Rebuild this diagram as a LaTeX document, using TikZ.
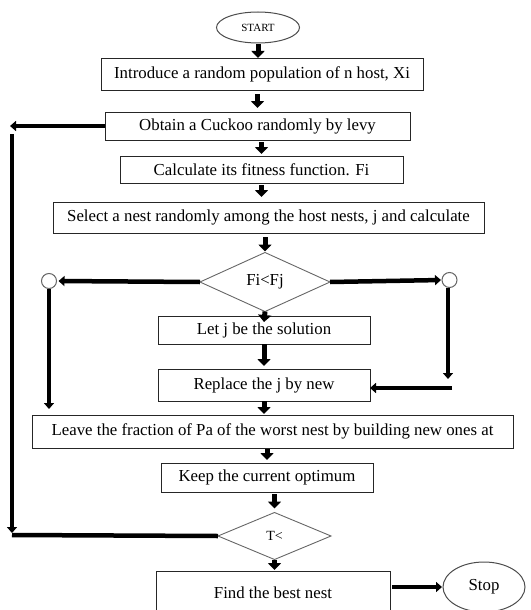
\documentclass[tikz,border=0pt]{standalone}
\usepackage{fontspec}
\setmainfont{Liberation Serif}
\usetikzlibrary{shapes.geometric,arrows.meta}
\begin{document}
\begin{tikzpicture}[x=1pt,y=-1pt,
  box/.style={draw=black!85,line width=1pt,inner sep=0pt,outer sep=0pt,font=\fontsize{16.8}{18}\selectfont},
  dia/.style={diamond,draw=black!60,line width=0.9pt,inner sep=0pt,outer sep=0pt,font=\fontsize{16.8}{18}\selectfont},
  oval/.style={ellipse,draw=black!70,line width=1pt,inner sep=0pt,outer sep=0pt},
  dot/.style={circle,draw=black!60,line width=1pt,fill=white,minimum size=15pt,inner sep=0pt,outer sep=0pt},
  varr/.style={line width=5pt,-{Triangle[width=13pt,length=7pt]}},
  harr/.style={line width=4.5pt,-{Triangle[width=10pt,length=6pt]}},
  hline/.style={line width=4.5pt},
]
\useasboundingbox (0,0) rectangle (530,610);

\node[oval,minimum width=83pt,minimum height=31pt,font=\fontsize{11}{12}\selectfont] (start) at (258,27.5) {START};
\node[box,minimum width=322pt,minimum height=31pt] (b1) at (262,74.5) {Introduce a random population of n host, Xi};
\node[box,minimum width=305pt,minimum height=28pt] (b2) at (257.5,126) {Obtain a Cuckoo randomly by levy};
\node[box,minimum width=283pt,minimum height=27pt] (b3) at (261.5,169.5) {Calculate its fitness function. Fi};
\node[box,minimum width=431pt,minimum height=31pt] (b4) at (268.5,217.5) {Select a nest randomly among the host nests, j and calculate};
\node[dia,minimum width=130pt,minimum height=59pt] (d1) at (265,282) {Fi<Fj};
\node[dot] (c1) at (49,281) {};
\node[dot] (c2) at (449.5,280) {};
\node[box,minimum width=212pt,minimum height=28pt] (b5) at (264,330) {Let j be the solution};
\node[box,minimum width=212pt,minimum height=32pt] (b6) at (264,385) {Replace the j by new};
\node[box,minimum width=481pt,minimum height=33pt] (b7) at (272.5,431.5) {Leave the fraction of Pa of the worst nest by building new ones at};
\node[box,minimum width=212pt,minimum height=29pt] (b8) at (267,477.5) {Keep the current optimum};
\node[dia,minimum width=113pt,minimum height=47pt,font=\fontsize{14}{16}\selectfont] (d2) at (274.5,536) {T<};
\node[box,minimum width=234pt,minimum height=44pt] (b9) at (273,593) {Find the best nest};
\node[oval,minimum width=82pt,minimum height=50pt,font=\fontsize{16.8}{18}\selectfont] (stop) at (484,587) {Stop};

\coordinate (la) at (10,126);
\coordinate (lt) at (12,134);
\coordinate (lb) at (12,535);
\coordinate (ra) at (448,379);
\coordinate (rb) at (452,388);

\draw[varr,shorten <=1pt,shorten >=1pt] (start.south) -- (start.south |- b1.north);
\draw[varr,shorten <=4pt,shorten >=4pt] (b2.north |- b1.south) -- (b2.north);
\draw[varr,shorten <=2pt,shorten >=2pt] (b3.north |- b2.south) -- (b3.north);
\draw[varr,shorten <=2pt,shorten >=5pt] (b3.south) -- (b3.south |- b4.north);
\draw[varr,shorten <=4pt,shorten >=1pt] (d1.north |- b4.south) -- (d1.north);
\draw[harr,shorten >=2pt] (d1.west) -- (c1.east);
\draw[harr,shorten >=1pt] (d1.east) -- (c2.west);
\draw[harr,shorten >=6pt] (c1.south) -- (c1.south |- b7.north);
\draw[harr] (c2.south -| ra) -- (ra);
\draw[harr] (rb) -- (rb -| b6.east);
\draw[varr] (d1.south) -- ([yshift=-6pt]b5.north);
\draw[varr,shorten >=3pt] (b5.south) -- (b5.south |- b6.north);
\draw[varr,shorten >=1pt] (b6.south) -- (b6.south |- b7.north);
\draw[varr,shorten <=1pt,shorten >=3pt] (b8.north |- b7.south) -- (b8.north);
\draw[varr,shorten <=2pt,shorten >=4pt] (d2.north |- b8.south) -- (d2.north);
\draw[varr,shorten >=1pt] (d2.south) -- (d2.south |- b9.north);
\draw[harr,shorten <=2pt,shorten >=1pt] (b9.east |- stop.west) -- (stop.west);
\draw[harr] (b2.west) -- (la);
\draw[harr] (lt) -- ([yshift=2pt]lb);
\draw[hline] (d2.west) -- (lb);
\end{tikzpicture}
\end{document}
